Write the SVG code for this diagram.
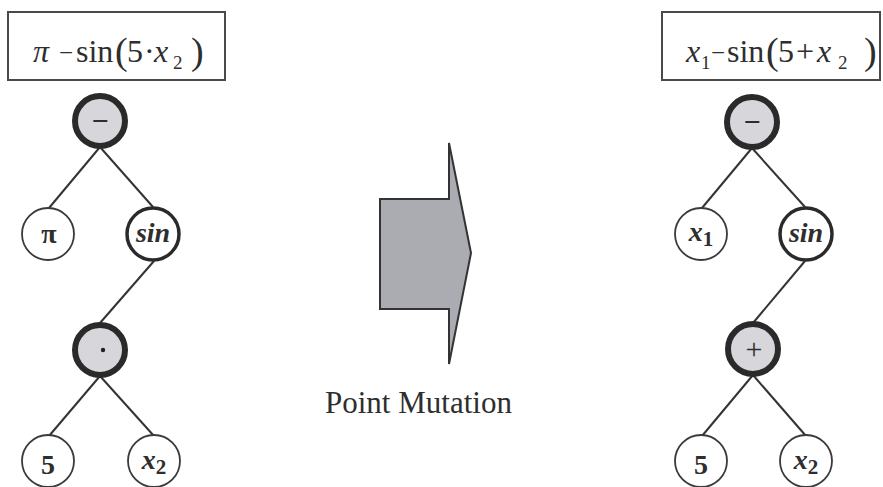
<svg xmlns="http://www.w3.org/2000/svg" width="883" height="487" viewBox="0 0 883 487">
  <style>
    .serif { font-family: "Liberation Serif", "Times New Roman", serif; fill: #2e2e2e; }
    .formula { font-size: 32px; }
    .sub { font-size: 19px; }
    .paren { font-size: 38px; }
    .minus { font-size: 25px; }
    .box { fill: #ffffff; stroke: #4a4a4a; stroke-width: 2; }
    .edge { stroke: #333333; stroke-width: 2; fill: none; }
    .op { fill: #d6d6db; stroke: #2a2a2a; stroke-width: 6; }
    .fn { fill: #ffffff; stroke: #2a2a2a; stroke-width: 3.5; }
    .leaf { fill: #ffffff; stroke: #3a3a3a; stroke-width: 1.8; }
    .lbl { font-size: 28px; font-weight: bold; text-anchor: middle; }
    .it { font-style: italic; }
    .sym { font-size: 30px; text-anchor: middle; }
  </style>

  <!-- expression headers -->
  <g id="formula-before">
    <rect class="box" x="8" y="12" width="217" height="68"/>
    <text class="serif formula" y="62"><tspan class="it" x="33">π</tspan><tspan class="minus" x="59" dy="-1">−</tspan><tspan x="76" dy="1">sin</tspan><tspan class="paren" x="115" dy="2">(</tspan><tspan x="127" dy="-2">5</tspan><tspan x="144">·</tspan><tspan class="it" x="154">x</tspan><tspan class="sub" x="173" dy="7">2</tspan><tspan class="paren" x="191" dy="-5">)</tspan></text>
  </g>
  <g id="formula-after">
    <rect class="box" x="662" y="12" width="218" height="68"/>
    <text class="serif formula" y="62"><tspan class="it" x="686">x</tspan><tspan class="sub" x="701" dy="7">1</tspan><tspan class="minus" x="711" dy="-8">−</tspan><tspan x="727" dy="1">sin</tspan><tspan class="paren" x="766" dy="2">(</tspan><tspan x="778" dy="-2">5</tspan><tspan x="796">+</tspan><tspan class="it" x="817">x</tspan><tspan class="sub" x="838" dy="7">2</tspan><tspan class="paren" x="864" dy="-5">)</tspan></text>
  </g>

  <!-- tree edges -->
  <g id="connectors">
    <line class="edge" x1="100" y1="147" x2="49" y2="208"/>
    <line class="edge" x1="100" y1="147" x2="153" y2="207"/>
    <line class="edge" x1="154" y1="261" x2="100" y2="323"/>
    <line class="edge" x1="100" y1="376" x2="49" y2="436"/>
    <line class="edge" x1="100" y1="376" x2="154" y2="436"/>

    <line class="edge" x1="752" y1="148" x2="702" y2="208"/>
    <line class="edge" x1="752" y1="148" x2="805" y2="207"/>
    <line class="edge" x1="805" y1="261" x2="753" y2="323"/>
    <line class="edge" x1="753" y1="375" x2="702" y2="436"/>
    <line class="edge" x1="753" y1="375" x2="806" y2="436"/>
  </g>

  <!-- left tree -->
  <g id="l-minus">
    <circle class="op" cx="100" cy="121" r="25"/>
    <text class="serif sym" x="100" y="131" font-weight="bold">−</text>
  </g>
  <g id="l-pi">
    <circle class="leaf" cx="48" cy="234" r="26"/>
    <text class="serif lbl" x="49" y="243" font-size="31">π</text>
  </g>
  <g id="l-sin">
    <circle class="fn" cx="153" cy="234" r="26"/>
    <text class="serif lbl it" x="153" y="242" font-size="27">sin</text>
  </g>
  <g id="l-times">
    <circle class="op" cx="100" cy="350" r="25"/>
    <circle cx="103" cy="350" r="2.2" fill="#222"/>
  </g>
  <g id="l-five">
    <circle class="leaf" cx="48" cy="461" r="26"/>
    <text class="serif lbl" x="48" y="474" font-size="30">5</text>
  </g>
  <g id="l-x2">
    <circle class="leaf" cx="154" cy="461" r="26"/>
    <text class="serif lbl" x="154" y="469"><tspan class="it">x</tspan><tspan font-size="21" dy="5">2</tspan></text>
  </g>

  <!-- right tree -->
  <g id="r-minus">
    <circle class="op" cx="752" cy="122" r="25"/>
    <text class="serif sym" x="752" y="132" font-weight="bold">−</text>
  </g>
  <g id="r-x1">
    <circle class="leaf" cx="701" cy="234" r="26"/>
    <text class="serif lbl" x="701" y="241"><tspan class="it">x</tspan><tspan font-size="21" dy="5">1</tspan></text>
  </g>
  <g id="r-sin">
    <circle class="fn" cx="806" cy="234" r="26"/>
    <text class="serif lbl it" x="806" y="242" font-size="27">sin</text>
  </g>
  <g id="r-plus">
    <circle class="op" cx="753" cy="349" r="25"/>
    <text class="serif sym" x="754" y="359">+</text>
  </g>
  <g id="r-five">
    <circle class="leaf" cx="701" cy="461" r="26"/>
    <text class="serif lbl" x="701" y="474" font-size="30">5</text>
  </g>
  <g id="r-x2">
    <circle class="leaf" cx="806" cy="461" r="26"/>
    <text class="serif lbl" x="806" y="469"><tspan class="it">x</tspan><tspan font-size="21" dy="5">2</tspan></text>
  </g>

  <!-- transformation arrow -->
  <g id="mutation-arrow">
    <polygon points="380,199 449,199 449,143 471,253 449,364 449,309 380,309" fill="#ababb2" stroke="#333" stroke-width="2" stroke-linejoin="miter"/>
    <text class="serif" x="325" y="413" font-size="31" fill="#3a3a3a">Point Mutation</text>
  </g>
</svg>
